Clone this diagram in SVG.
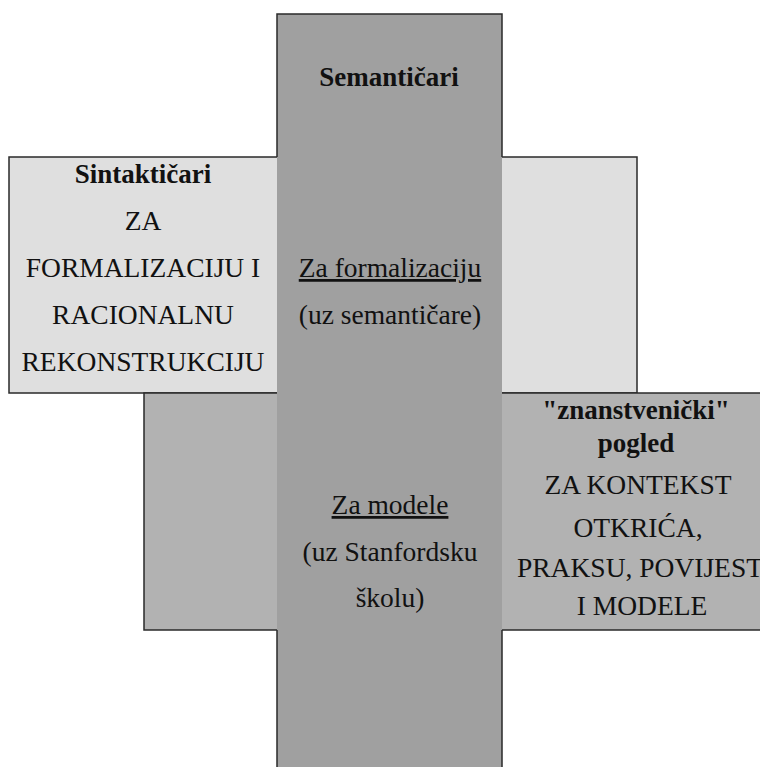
<svg xmlns="http://www.w3.org/2000/svg" width="760" height="767" viewBox="0 0 760 767">
<style>
.box{stroke:#2a2a2a;stroke-width:1.5}
.edge{fill:none;stroke:#2a2a2a;stroke-width:1.5}
.t{fill:#111}
.b{font-weight:bold;font-size:27px}
.u{text-decoration:underline}
</style>
<rect width="760" height="767" fill="#ffffff"/>
<g id="sintakticari">
<rect class="box" x="9" y="157" width="628" height="236" fill="#dfdfdf"/>
</g>
<g id="znanstvenicki">
<rect class="box" x="144" y="393" width="640" height="237" fill="#b2b2b2"/>
</g>
<g id="semanticari">
<rect x="277" y="14" width="225" height="760" fill="#a0a0a0"/>
<path class="edge" d="M277,157 V14 H502 V157 M277,630 V767 M502,630 V767"/>
<g class="t" font-family="Liberation Serif, serif" font-size="27.5" text-anchor="middle">
<text class="b" x="389" y="86">Semantičari</text>
<text class="u" x="390" y="277">Za formalizaciju</text>
<text x="390" y="324">(uz semantičare)</text>
<text class="u" x="390" y="514">Za modele</text>
<text x="390" y="561">(uz Stanfordsku</text>
<text x="390" y="607">školu)</text>
</g>
</g>
<g id="sintakticari-text" class="t" font-family="Liberation Serif, serif" font-size="27.5" text-anchor="middle">
<text class="b" x="143" y="183">Sintaktičari</text>
<text x="143" y="230">ZA</text>
<text x="143" y="277">FORMALIZACIJU I</text>
<text x="143" y="324">RACIONALNU</text>
<text x="143" y="371">REKONSTRUKCIJU</text>
</g>
<g id="znanstvenicki-text" class="t" font-family="Liberation Serif, serif" font-size="27.5" text-anchor="middle">
<text class="b" x="636" y="419">"znanstvenički"</text>
<text class="b" x="636" y="452">pogled</text>
<text x="638" y="494">ZA KONTEKST</text>
<text x="638" y="537">OTKRIĆA,</text>
<text x="640" y="577">PRAKSU, POVIJEST</text>
<text x="642" y="615">I MODELE</text>
</g>
</svg>
